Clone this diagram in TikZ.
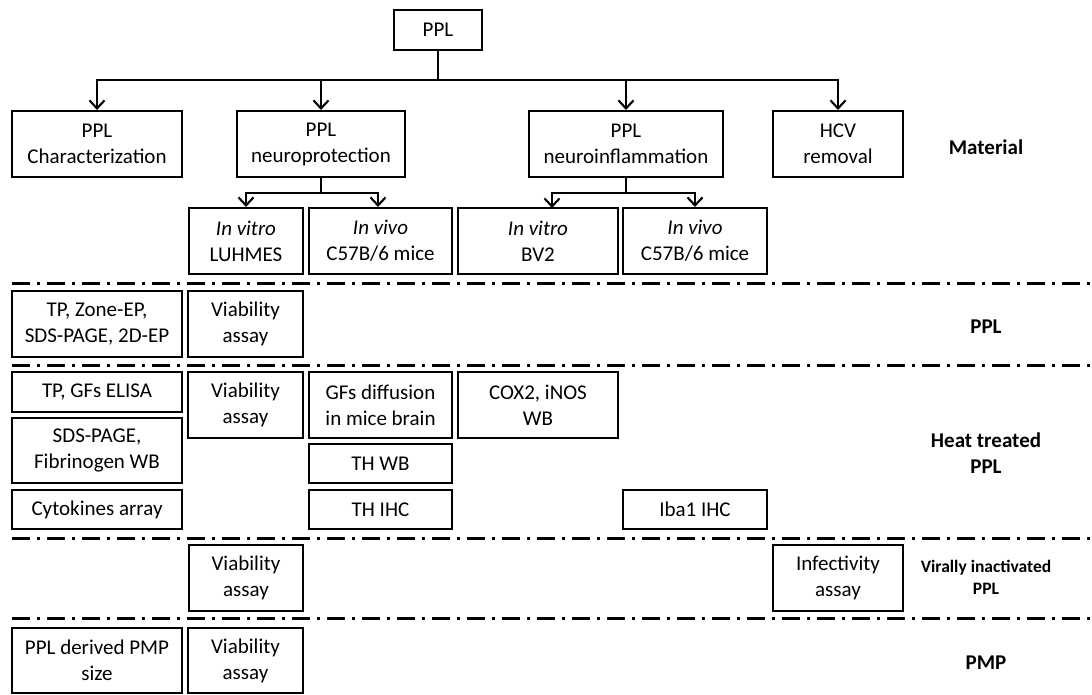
\documentclass[tikz,border=0pt]{standalone}
\usepackage{fontspec}
\setmainfont{Carlito}
\usetikzlibrary{arrows.meta}
\begin{document}
\begin{tikzpicture}[x=1pt,y=-1pt,
  box/.style={draw, line width=2.1pt, inner sep=0pt, align=center,
    font=\fontsize{21}{26}\selectfont},
  lab/.style={align=center, font=\fontsize{21}{26}\selectfont\bfseries},
  smalllab/.style={align=center, font=\fontsize{17.5}{22}\selectfont\bfseries},
  conn/.style={line width=2.1pt},
  arr/.style={line width=2.1pt, -{Straight Barb[length=8pt,width=15pt]}},
  sep/.style={line width=3pt, dash pattern=on 18pt off 7pt on 3pt off 7pt}]
\useasboundingbox (0,0) rectangle (1092,695);

% top level
\node[box, minimum width=88pt, minimum height=40pt] (top) at (438,30) {PPL};
\node[box, minimum width=170pt, minimum height=66pt] (char) at (97,144) {PPL\\Characterization};
\node[box, minimum width=168pt, minimum height=66pt] (np) at (321,144) {PPL\\neuroprotection};
\node[box, minimum width=194pt, minimum height=66pt] (ni) at (626,144) {PPL\\neuroinflammation};
\node[box, minimum width=130pt, minimum height=66pt] (hcv) at (838,144) {HCV\\removal};

% second level
\node[box, minimum width=114pt, minimum height=66pt] (luh) at (246,241) {\textit{In vitro}\\LUHMES};
\node[box, minimum width=143pt, minimum height=66pt] (c57a) at (380.5,241) {\textit{In vivo}\\C57B/6 mice};
\node[box, minimum width=160pt, minimum height=66pt] (bv2) at (538,241) {\textit{In vitro}\\BV2};
\node[box, minimum width=144pt, minimum height=66pt] (c57b) at (695,241) {\textit{In vivo}\\C57B/6 mice};

% connectors
\coordinate (j0) at (438,80);
\draw[conn] (top.south) -- (j0);
\draw[arr] (j0) -| (char.north);
\draw[arr] (j0) -| (np.north);
\draw[arr] (j0) -| (ni.north);
\draw[arr] (j0) -| (hcv.north);

\coordinate (j1) at (321,193);
\draw[conn] (np.south) -- (j1);
\draw[arr] (j1) -| (luh.north);
\draw[arr] (j1) -| ([xshift=-2.5pt]c57a.north);

\coordinate (j2) at (626,193);
\coordinate (bv2in) at (552,208);
\draw[conn] (ni.south) -- (j2);
\draw[arr] (j2) -| (bv2in);
\draw[arr] (j2) -| (c57b.north);

% separators
\draw[sep] (12,283) -- (1092,283);
\draw[sep] (12,365) -- (1092,365);
\draw[sep] (12,538) -- (1092,538);
\draw[sep] (12,618) -- (1092,618);

% PPL row
\node[box, minimum width=170pt, minimum height=66pt] (tpz) at (97,324) {TP, Zone-EP,\\SDS-PAGE, 2D-EP};
\node[box, minimum width=115pt, minimum height=66pt] (v1) at (245.5,324) {Viability\\assay};

% Heat treated row
\node[box, minimum width=170pt, minimum height=40pt] (tpg) at (97,392) {TP, GFs ELISA};
\node[box, minimum width=170pt, minimum height=65pt] (sds) at (97,450.5) {SDS-PAGE,\\Fibrinogen WB};
\node[box, minimum width=170pt, minimum height=39pt] (cyt) at (97,509.5) {Cytokines array};
\node[box, minimum width=115pt, minimum height=66pt] (v2) at (245.5,405) {Viability\\assay};
\node[box, minimum width=143pt, minimum height=66pt] (gfd) at (380.5,405) {GFs diffusion\\in mice brain};
\node[box, minimum width=143pt, minimum height=39pt] (thwb) at (380.5,463.5) {TH WB};
\node[box, minimum width=143pt, minimum height=39pt] (thihc) at (380.5,509.5) {TH IHC};
\node[box, minimum width=160pt, minimum height=66pt] (cox) at (538,405) {COX2, iNOS\\WB};
\node[box, minimum width=144pt, minimum height=39pt] (iba) at (695,509.5) {Iba1 IHC};

% Virally inactivated row
\node[box, minimum width=114pt, minimum height=66pt] (v3) at (246,578) {Viability\\assay};
\node[box, minimum width=130pt, minimum height=66pt] (inf) at (838,578) {Infectivity\\assay};

% PMP row
\node[box, minimum width=170pt, minimum height=65pt] (pmp) at (97,660.5) {PPL derived PMP\\size};
\node[box, minimum width=115pt, minimum height=65pt] (v4) at (245.5,660.5) {Viability\\assay};

% right labels
\node[lab] (lmat) at (986,147) {Material};
\node[lab] (lppl) at (986,327) {PPL};
\node[lab] (lheat) at (986,453) {Heat treated\\PPL};
\node[smalllab] (lvir) at (986,577) {Virally inactivated\\PPL};
\node[lab] (lpmp) at (986,663) {PMP};
\end{tikzpicture}
\end{document}
